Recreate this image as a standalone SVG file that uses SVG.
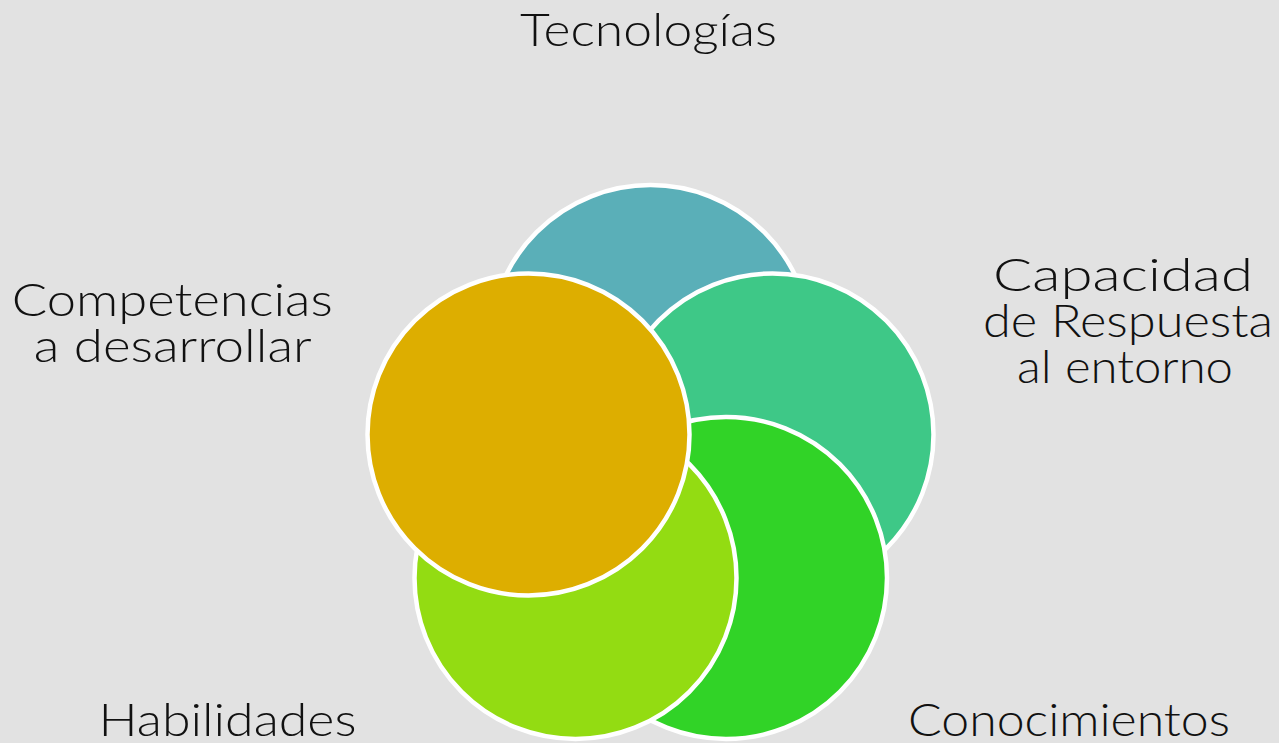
<svg xmlns="http://www.w3.org/2000/svg" width="1279" height="743" viewBox="0 0 1279 743">
  <style>
    .c { stroke: #ffffff; stroke-width: 4.5; }
    .t { font-family: Lato, "Liberation Sans", Arial, sans-serif; font-weight: 300; font-size: 45px; fill: #111111; text-anchor: middle; }
  </style>
  <rect x="0" y="0" width="1279" height="743" fill="#e2e2e2"/>
  <g id="node-tecnologias">
    <circle class="c" cx="650.5" cy="346" r="161" fill="#5aafb8"/>
  </g>
  <g id="node-capacidad">
    <circle class="c" cx="772.5" cy="434.5" r="161" fill="#3ec887"/>
  </g>
  <g id="node-conocimientos">
    <circle class="c" cx="726" cy="578" r="161" fill="#31d327"/>
  </g>
  <g id="node-habilidades">
    <circle class="c" cx="575.5" cy="578" r="161" fill="#93dc12"/>
  </g>
  <g id="node-competencias">
    <circle class="c" cx="528.5" cy="434.5" r="161" fill="#ddae00"/>
  </g>
  <g id="connectors"></g>
  <g id="labels">
    <text class="t" x="648.5" y="45.7" textLength="257" lengthAdjust="spacingAndGlyphs">Tecnologías</text>
    <text class="t" x="1123" y="290.7" textLength="260" lengthAdjust="spacingAndGlyphs">Capacidad</text>
    <text class="t" x="1128" y="337.3" textLength="290" lengthAdjust="spacingAndGlyphs">de Respuesta</text>
    <text class="t" x="1125" y="383.3" textLength="216" lengthAdjust="spacingAndGlyphs">al entorno</text>
    <text class="t" x="172.3" y="315.7" textLength="321" lengthAdjust="spacingAndGlyphs">Competencias</text>
    <text class="t" x="172.8" y="362.3" textLength="278" lengthAdjust="spacingAndGlyphs">a desarrollar</text>
    <text class="t" x="227.5" y="735.7" textLength="258" lengthAdjust="spacingAndGlyphs">Habilidades</text>
    <text class="t" x="1069" y="735.7" textLength="322" lengthAdjust="spacingAndGlyphs">Conocimientos</text>
  </g>
</svg>
